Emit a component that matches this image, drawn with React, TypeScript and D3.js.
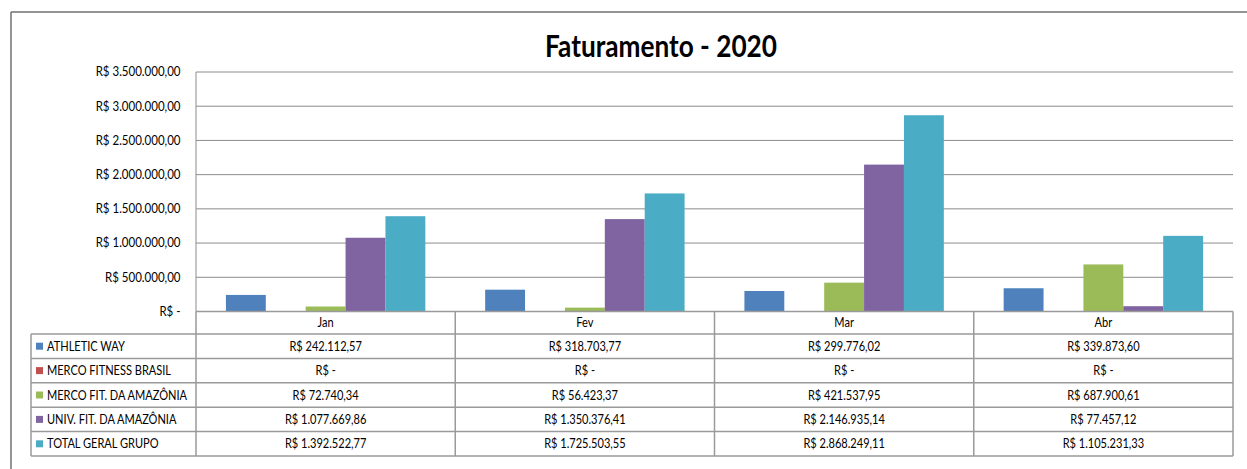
import React from "react";
import * as d3 from "d3";

const months = ["Jan", "Fev", "Mar", "Abr"];
const seriesNames = [
  "ATHLETIC WAY",
  "MERCO FITNESS BRASIL",
  "MERCO FIT. DA AMAZÔNIA",
  "UNIV. FIT. DA AMAZÔNIA",
  "TOTAL GERAL GRUPO",
];
const athleticWay = [242112.57, 318703.77, 299776.02, 339873.6];
const mercoFitnessBrasil = [0, 0, 0, 0];
const mercoFitAmazonia = [72740.34, 56423.37, 421537.95, 687900.61];
const univFitAmazonia = [1077669.86, 1350376.41, 2146935.14, 77457.12];
const totalGeralGrupo = [1392522.77, 1725503.55, 2868249.11, 1105231.33];
const yTicks = [0, 500000, 1000000, 1500000, 2000000, 2500000, 3000000, 3500000];
const colors = ["#4F81BD", "#C0504D", "#9BBB59", "#8064A2", "#4BACC6"];

const seriesValues = [athleticWay, mercoFitnessBrasil, mercoFitAmazonia, univFitAmazonia, totalGeralGrupo];

const locale = d3.formatLocale({ decimal: ",", thousands: ".", grouping: [3], currency: ["R$ ", ""] });
const fmt = locale.format(",.2f");
const money = (v: number) => (v === 0 ? "R$ -" : "R$ " + fmt(v));

const FONT = "Lato, 'Open Sans', sans-serif";

function SText(props: {
  x: number;
  y: number;
  sx: number;
  anchor?: "start" | "middle" | "end";
  size: number;
  weight?: string;
  children: React.ReactNode;
}) {
  return (
    <text
      transform={`translate(${props.x},${props.y}) scale(${props.sx},1)`}
      dy="0.35em"
      textAnchor={props.anchor || "start"}
      fontFamily={FONT}
      fontSize={props.size}
      fontWeight={props.weight || "normal"}
      fill="#000"
    >
      {props.children}
    </text>
  );
}

export default function App() {
  const W = 1247, H = 469;
  const plotLeft = 196, plotRight = 1233, plotTop = 72, plotBottom = 311.5;
  const headerBottom = 334, tableBottom = 456, legendLeft = 31;

  const y = d3.scaleLinear().domain([0, 3500000]).range([plotBottom, plotTop]);
  const x0 = d3.scaleBand<string>().domain(months).range([plotLeft, plotRight]).padding(0);
  const x1 = d3.scaleBand<string>().domain(seriesNames).range([0, x0.bandwidth()]).paddingInner(0).paddingOuter(0.75);
  const row = d3.scaleBand<string>().domain(seriesNames).range([headerBottom, tableBottom]);

  const gridColor = "#8c8c8c";
  const tableColor = "#9a9a9a";
  const tableSx = 0.85;

  return (
    <svg width={W} height={H} style={{ position: "absolute", left: 0, top: 0, background: "#fff" }}>
      {/* outer frame */}
      <line x1={11} y1={12} x2={W} y2={12} stroke="#707070" strokeWidth={1.5} />
      <line x1={11} y1={12} x2={11} y2={H} stroke="#707070" strokeWidth={1.5} />

      <text
        x={661}
        y={57}
        textAnchor="middle"
        fontFamily={FONT}
        fontWeight="bold"
        fontSize={30}
        fill="#000"
        textLength={232}
        lengthAdjust="spacingAndGlyphs"
      >
        Faturamento - 2020
      </text>

      {/* gridlines and y ticks */}
      {yTicks.map((t) => (
        <g key={t}>
          <line x1={plotLeft} x2={plotRight} y1={y(t)} y2={y(t)} stroke={gridColor} strokeWidth={1} />
          <SText x={180.5} y={y(t)} sx={0.92} anchor="end" size={12.5}>
            {money(t)}
          </SText>
        </g>
      ))}
      <line x1={plotLeft} x2={plotLeft} y1={plotTop} y2={plotBottom} stroke={gridColor} strokeWidth={1} />

      {/* bars */}
      {months.map((m, mi) => (
        <g key={m} transform={`translate(${x0(m)},0)`}>
          {seriesNames.map((s, si) => {
            const v = seriesValues[si][mi];
            return (
              <rect key={s} x={x1(s)} y={y(v)} width={x1.bandwidth()} height={y(0) - y(v)} fill={colors[si]} />
            );
          })}
        </g>
      ))}

      {/* data table */}
      <g>
        <line x1={plotLeft} x2={plotRight} y1={plotBottom} y2={plotBottom} stroke={tableColor} strokeWidth={1.5} />
        {months.map((m) => (
          <SText key={m} x={(x0(m) as number) + x0.bandwidth() / 2} y={(plotBottom + headerBottom) / 2} sx={tableSx} anchor="middle" size={13}>
            {m}
          </SText>
        ))}
        {[headerBottom, ...seriesNames.map((s) => (row(s) as number) + row.bandwidth())].map((yy, i) => (
          <line key={i} x1={legendLeft} x2={plotRight} y1={yy} y2={yy} stroke={tableColor} strokeWidth={1.5} />
        ))}
        <line x1={legendLeft} x2={legendLeft} y1={headerBottom} y2={tableBottom} stroke={tableColor} strokeWidth={1.5} />
        {[...months.map((m) => x0(m) as number), plotRight].map((xx, i) => (
          <line key={i} x1={xx} x2={xx} y1={plotBottom} y2={tableBottom} stroke={tableColor} strokeWidth={1.5} />
        ))}
        {seriesNames.map((s, si) => {
          const cy = (row(s) as number) + row.bandwidth() / 2;
          return (
            <g key={s}>
              <rect x={36} y={cy - 3.5} width={7} height={7} fill={colors[si]} />
              <SText x={47} y={cy} sx={0.85} size={13}>{s}</SText>
              {months.map((m, mi) => (
                <SText key={m} x={(x0(m) as number) + x0.bandwidth() / 2} y={cy} sx={tableSx} anchor="middle" size={13}>
                  {money(seriesValues[si][mi])}
                </SText>
              ))}
            </g>
          );
        })}
      </g>
    </svg>
  );
}
